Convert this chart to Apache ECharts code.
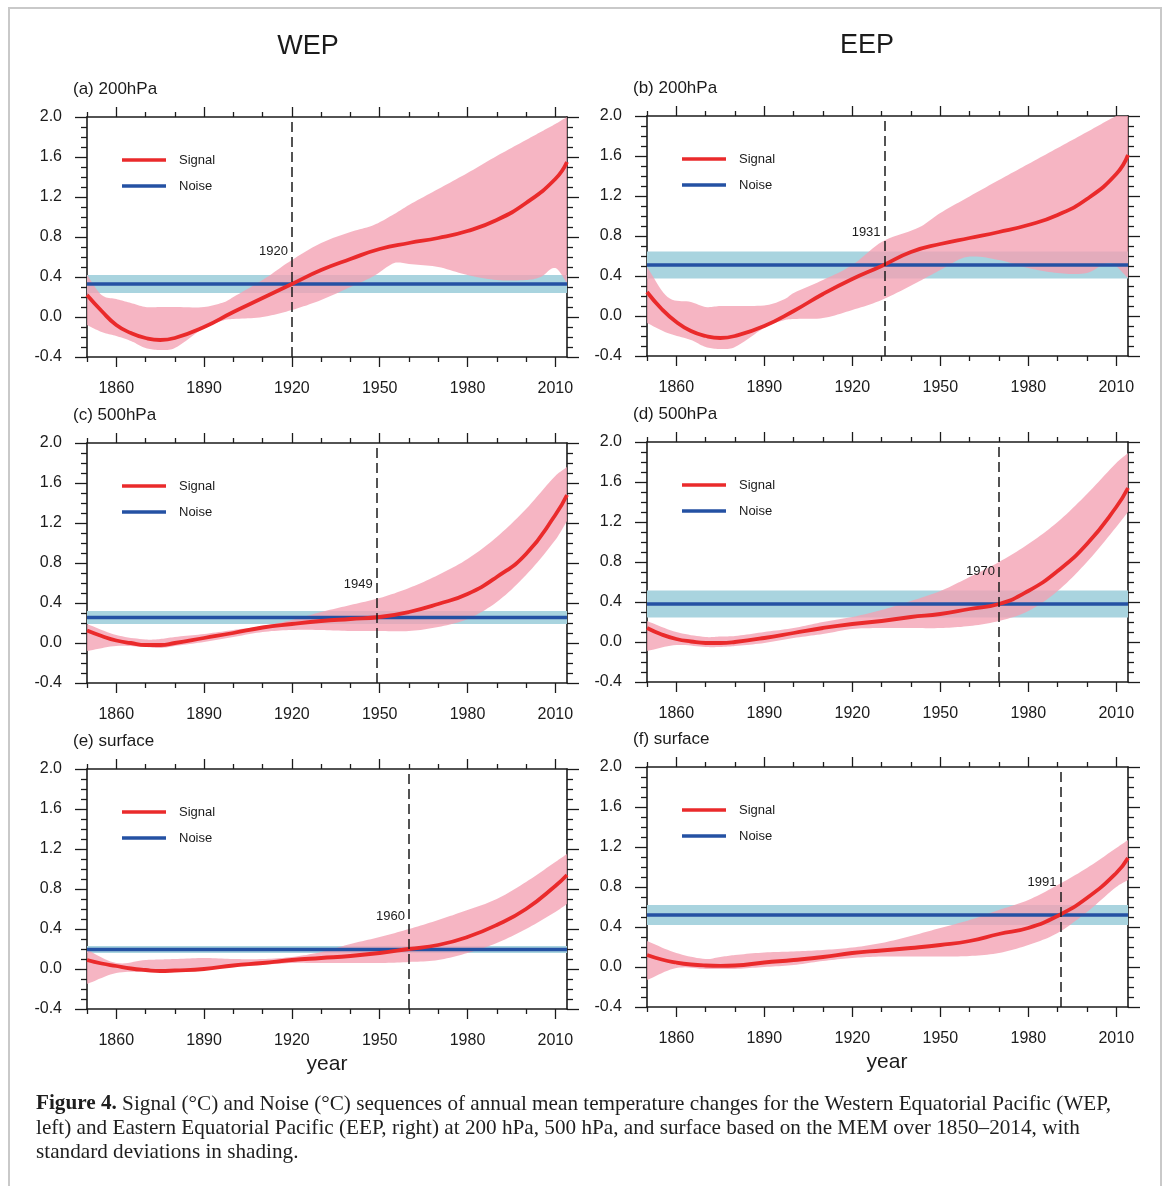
<!DOCTYPE html>
<html>
<head>
<meta charset="utf-8">
<script src="https://cdn.jsdelivr.net/npm/echarts@6/dist/echarts.min.js"></script>
<style>
  html, body { margin: 0; padding: 0; background: #ffffff; }
  #chart { width: 1168px; height: 1186px; }
</style>
</head>
<body>
<div id="chart"></div>
<script>
// ---------- data ----------
const majorYears = [1860, 1890, 1920, 1950, 1980, 2010];
const minorYears = [1850, 1870, 1880, 1900, 1910, 1930, 1940, 1960, 1970, 1990, 2000];
const signalYears = [1850, 1855, 1860, 1865, 1870, 1875, 1880, 1890, 1900, 1910, 1920, 1930, 1940, 1950, 1960, 1970, 1980, 1990, 2000, 2010, 2014];

// (a) WEP 200hPa
const signal_a = [0.22, 0.06, -0.08, -0.16, -0.21, -0.23, -0.21, -0.10, 0.05, 0.19, 0.33, 0.47, 0.58, 0.68, 0.74, 0.79, 0.86, 0.97, 1.14, 1.38, 1.55];
const bandYears_a = [1850, 1855, 1860, 1865, 1870, 1875, 1880, 1890, 1897, 1900, 1910, 1920, 1930, 1940, 1948, 1955, 1960, 1970, 1980, 1990, 2000, 2005, 2010, 2014];
const upper_a = [0.42, 0.22, 0.18, 0.14, 0.10, 0.10, 0.10, 0.10, 0.15, 0.20, 0.37, 0.57, 0.74, 0.85, 0.92, 1.03, 1.12, 1.28, 1.44, 1.61, 1.77, 1.85, 1.93, 2.00];
const lower_a = [-0.08, -0.15, -0.19, -0.24, -0.31, -0.33, -0.31, -0.11, -0.03, -0.02, 0.00, 0.07, 0.17, 0.30, 0.41, 0.54, 0.53, 0.50, 0.42, 0.37, 0.37, 0.40, 0.49, 0.34];
const noise_a = 0.33, noiseSd_a = 0.09, emergence_a = 1920;

// (b) EEP 200hPa
const signal_b = [0.24, 0.07, -0.06, -0.15, -0.20, -0.22, -0.20, -0.10, 0.05, 0.22, 0.37, 0.50, 0.64, 0.72, 0.78, 0.84, 0.91, 1.01, 1.17, 1.42, 1.61];
const bandYears_b = [1850, 1857, 1865, 1870, 1875, 1880, 1891, 1897, 1900, 1910, 1920, 1930, 1943, 1950, 1959, 1970, 1980, 1990, 2000, 2008, 2014];
const upper_b = [0.49, 0.19, 0.14, 0.09, 0.10, 0.10, 0.11, 0.17, 0.23, 0.36, 0.51, 0.74, 0.89, 1.03, 1.18, 1.36, 1.52, 1.68, 1.84, 1.97, 2.06];
const lower_b = [-0.07, -0.17, -0.24, -0.31, -0.33, -0.31, -0.10, -0.04, -0.03, -0.02, 0.06, 0.16, 0.35, 0.46, 0.59, 0.56, 0.48, 0.43, 0.43, 0.53, 0.38];
const noise_b = 0.51, noiseSd_b = 0.135, emergence_b = 1931;

// shared sampling years for the lower-level spreads
const bandYears_cf = [1850, 1860, 1870, 1875, 1880, 1890, 1900, 1910, 1920, 1930, 1940, 1950, 1960, 1970, 1980, 1990, 2000, 2010, 2014];

// (c) WEP 500hPa
const signal_c = [0.125, 0.07, 0.025, 0.0, -0.02, -0.02, 0.0, 0.05, 0.10, 0.155, 0.19, 0.22, 0.24, 0.26, 0.31, 0.39, 0.49, 0.66, 0.89, 1.28, 1.48];
const upper_c = [0.19, 0.08, 0.035, 0.04, 0.06, 0.09, 0.13, 0.17, 0.23, 0.31, 0.38, 0.45, 0.55, 0.68, 0.84, 1.06, 1.34, 1.67, 1.76];
const lower_c = [-0.08, -0.03, -0.04, -0.05, -0.03, 0.01, 0.06, 0.11, 0.13, 0.13, 0.12, 0.12, 0.12, 0.16, 0.24, 0.41, 0.68, 1.03, 1.22];
const noise_c = 0.255, noiseSd_c = 0.065, emergence_c = 1949;

// (d) EEP 500hPa
const signal_d = [0.14, 0.075, 0.03, 0.005, -0.01, -0.01, 0.0, 0.04, 0.09, 0.14, 0.18, 0.21, 0.25, 0.28, 0.33, 0.38, 0.51, 0.71, 0.98, 1.35, 1.54];
const upper_d = [0.21, 0.10, 0.05, 0.055, 0.06, 0.10, 0.14, 0.20, 0.25, 0.32, 0.41, 0.51, 0.65, 0.80, 0.98, 1.20, 1.48, 1.79, 1.89];
const lower_d = [-0.09, -0.03, -0.05, -0.05, -0.04, -0.01, 0.04, 0.08, 0.13, 0.14, 0.14, 0.14, 0.16, 0.21, 0.31, 0.51, 0.80, 1.15, 1.30];
const noise_d = 0.38, noiseSd_d = 0.135, emergence_d = 1970;

// (e) WEP surface
const signal_e = [0.09, 0.055, 0.03, 0.005, -0.01, -0.02, -0.015, 0.0, 0.035, 0.06, 0.09, 0.11, 0.13, 0.16, 0.20, 0.24, 0.32, 0.44, 0.60, 0.83, 0.94];
const upper_e = [0.19, 0.06, 0.09, 0.095, 0.10, 0.11, 0.10, 0.10, 0.12, 0.17, 0.25, 0.32, 0.40, 0.49, 0.59, 0.70, 0.87, 1.07, 1.15];
const lower_e = [-0.15, -0.04, -0.03, -0.03, -0.03, 0.0, 0.02, 0.04, 0.06, 0.06, 0.06, 0.06, 0.07, 0.09, 0.16, 0.26, 0.40, 0.57, 0.65];
const noise_e = 0.195, noiseSd_e = 0.035, emergence_e = 1960;

// (f) EEP surface
const signal_f = [0.12, 0.075, 0.045, 0.025, 0.015, 0.012, 0.015, 0.045, 0.07, 0.10, 0.14, 0.165, 0.19, 0.22, 0.26, 0.33, 0.39, 0.51, 0.69, 0.94, 1.09];
const upper_f = [0.26, 0.14, 0.08, 0.10, 0.12, 0.145, 0.155, 0.17, 0.195, 0.24, 0.31, 0.39, 0.47, 0.57, 0.67, 0.82, 0.99, 1.19, 1.27];
const lower_f = [-0.13, -0.01, -0.02, -0.02, -0.02, 0.0, 0.02, 0.06, 0.09, 0.105, 0.105, 0.105, 0.11, 0.14, 0.22, 0.34, 0.55, 0.80, 0.87];
const noise_f = 0.52, noiseSd_f = 0.10, emergence_f = 1991;

const panelTitles = ['(a) 200hPa', '(b) 200hPa', '(c) 500hPa', '(d) 500hPa', '(e) surface', '(f) surface'];

// ---------- panel assembly ----------
const panels = [
  { title: panelTitles[0], signal: signal_a, bandYears: bandYears_a, upper: upper_a, lower: lower_a, noise: noise_a, sd: noiseSd_a, year: emergence_a },
  { title: panelTitles[1], signal: signal_b, bandYears: bandYears_b, upper: upper_b, lower: lower_b, noise: noise_b, sd: noiseSd_b, year: emergence_b },
  { title: panelTitles[2], signal: signal_c, bandYears: bandYears_cf, upper: upper_c, lower: lower_c, noise: noise_c, sd: noiseSd_c, year: emergence_c },
  { title: panelTitles[3], signal: signal_d, bandYears: bandYears_cf, upper: upper_d, lower: lower_d, noise: noise_d, sd: noiseSd_d, year: emergence_d },
  { title: panelTitles[4], signal: signal_e, bandYears: bandYears_cf, upper: upper_e, lower: lower_e, noise: noise_e, sd: noiseSd_e, year: emergence_e },
  { title: panelTitles[5], signal: signal_f, bandYears: bandYears_cf, upper: upper_f, lower: lower_f, noise: noise_f, sd: noiseSd_f, year: emergence_f }
];

// layout of the 3x2 panel grid (pixels)
const colLeft = [87, 647];
const colWidth = [480, 481];
const rowTop = [[117, 443, 769], [116, 442, 767]];
const plotHeight = 240;

const INK = '#1b1b1b';
const RED = '#ea2a2b';
const BLUE = '#2451a3';
const PINK = 'rgba(243,160,178,0.78)';
const SKY = '#a9d4df';
const SANS = '"Liberation Sans", Arial, Helvetica, sans-serif';
const SERIF = '"Liberation Serif", "Times New Roman", serif';

// Smooth pixel-space curve through projected points (cubic Hermite, finite-difference slopes)
function smoothPixels(pts, steps) {
  const n = pts.length, out = [];
  if (n < 3) return pts.slice();
  const slope = pts.map((p, i) => {
    const a = pts[Math.max(0, i - 1)], b = pts[Math.min(n - 1, i + 1)];
    return (b[1] - a[1]) / (b[0] - a[0]);
  });
  for (let i = 0; i < n - 1; i++) {
    const p0 = pts[i], p1 = pts[i + 1], h = p1[0] - p0[0];
    for (let s = 0; s < steps; s++) {
      const t = s / steps, t2 = t * t, t3 = t2 * t;
      const y = (2 * t3 - 3 * t2 + 1) * p0[1] + (t3 - 2 * t2 + t) * h * slope[i] +
                (-2 * t3 + 3 * t2) * p1[1] + (t3 - t2) * h * slope[i + 1];
      out.push([p0[0] + t * h, y]);
    }
  }
  out.push(pts[n - 1]);
  return out;
}

// Filled spread between two curves, drawn once per series through the axis scales
function spreadRenderer(xs, lo, hi, fill, steps) {
  return function (params, api) {
    if (params.dataIndex !== 0) return null;
    const top = smoothPixels(xs.map((x, i) => api.coord([x, hi[i]])), steps);
    const bot = smoothPixels(xs.map((x, i) => api.coord([x, lo[i]])), steps);
    return {
      type: 'polygon',
      shape: { points: top.concat(bot.reverse()) },
      style: { fill: fill, stroke: null }
    };
  };
}

const grids = [], xAxes = [], yAxes = [], series = [], legends = [], graphics = [];

panels.forEach((p, g) => {
  const col = g % 2, row = Math.floor(g / 2);
  const left = colLeft[col], top = rowTop[col][row];
  grids.push({ left: left, top: top, width: colWidth[col], height: plotHeight, containLabel: false });

  const xBase = { type: 'value', gridIndex: g, min: 1850, max: 2014, splitLine: { show: false } };
  const lineStyle = { color: INK, width: 1.6 };
  const tickStyle = { color: INK, width: 1.3 };
  // bottom: labelled major ticks, then minor ticks every decade
  xAxes.push(Object.assign({}, xBase, {
    position: 'bottom',
    axisLine: { show: true, onZero: false, lineStyle: lineStyle },
    axisTick: { show: true, inside: false, length: 10, customValues: majorYears, lineStyle: tickStyle },
    axisLabel: { show: true, customValues: majorYears, margin: 24, fontSize: 16, color: INK, fontFamily: SANS, formatter: v => String(v) }
  }));
  xAxes.push(Object.assign({}, xBase, {
    position: 'bottom',
    axisLine: { show: false, onZero: false },
    axisTick: { show: true, inside: false, length: 5, customValues: minorYears, lineStyle: tickStyle },
    axisLabel: { show: false }
  }));
  // top mirror
  xAxes.push(Object.assign({}, xBase, {
    position: 'top',
    axisLine: { show: true, onZero: false, lineStyle: lineStyle },
    axisTick: { show: true, inside: false, length: 10, customValues: majorYears, lineStyle: tickStyle },
    axisLabel: { show: false }
  }));
  xAxes.push(Object.assign({}, xBase, {
    position: 'top',
    axisLine: { show: false, onZero: false },
    axisTick: { show: true, inside: false, length: 5, customValues: minorYears, lineStyle: tickStyle },
    axisLabel: { show: false }
  }));

  const yBase = {
    type: 'value', gridIndex: g, min: -0.4, max: 2.0, interval: 0.4,
    splitLine: { show: false }, minorSplitLine: { show: false },
    axisLine: { show: true, onZero: false, lineStyle: lineStyle },
    axisTick: { show: true, inside: false, length: 12, lineStyle: tickStyle },
    minorTick: { show: true, splitNumber: 4, length: 6, lineStyle: tickStyle }
  };
  yAxes.push(Object.assign({}, yBase, {
    position: 'left',
    axisLabel: { show: true, margin: 25, fontSize: 16, color: INK, fontFamily: SANS, formatter: v => v.toFixed(1) }
  }));
  yAxes.push(Object.assign({}, yBase, { position: 'right', axisLabel: { show: false } }));

  const xi = g * 4, yi = g * 2;

  // noise spread (one standard deviation about the noise level)
  const nYears = [1850, 2014];
  const nLo = [p.noise - p.sd, p.noise - p.sd], nHi = [p.noise + p.sd, p.noise + p.sd];
  series.push({
    type: 'custom', name: 'Noise spread', xAxisIndex: xi, yAxisIndex: yi, z: 1, silent: true, clip: true,
    data: nYears.map((x, i) => [x, nLo[i], nHi[i]]),
    encode: { x: 0, y: [1, 2] },
    renderItem: spreadRenderer(nYears, nLo, nHi, SKY, 1)
  });

  // signal spread
  series.push({
    type: 'custom', name: 'Signal spread', xAxisIndex: xi, yAxisIndex: yi, z: 2, silent: true, clip: true,
    data: p.bandYears.map((x, i) => [x, p.lower[i], p.upper[i]]),
    encode: { x: 0, y: [1, 2] },
    renderItem: spreadRenderer(p.bandYears, p.lower, p.upper, PINK, 10)
  });

  // noise level
  series.push({
    type: 'line', name: 'Noise', xAxisIndex: xi, yAxisIndex: yi, z: 3, color: BLUE,
    symbol: 'none', silent: true,
    data: [[1850, p.noise], [2014, p.noise]],
    lineStyle: { color: BLUE, width: 3.6 }
  });

  // signal with time of emergence
  series.push({
    type: 'line', name: 'Signal', xAxisIndex: xi, yAxisIndex: yi, z: 4, color: RED,
    symbol: 'none', silent: true, smooth: 0.5,
    data: signalYears.map((y, i) => [y, p.signal[i]]),
    lineStyle: { color: RED, width: 3.8 },
    markLine: {
      silent: true, symbol: ['none', 'none'], animation: false, z: 6,
      label: { show: false },
      lineStyle: { color: INK, width: 1.5, type: [10, 5] },
      data: [{ xAxis: p.year }]
    },
    markPoint: {
      silent: true, animation: false, z: 6,
      data: [{
        name: String(p.year), coord: [p.year, p.noise], symbol: 'circle', symbolSize: 0,
        label: { show: true, position: 'left', distance: 4, offset: [0, -33], formatter: '{b}', fontSize: 13, color: INK, fontFamily: SANS }
      }]
    }
  });

  legends.push({
    left: left + 35, top: top + 35, orient: 'vertical', padding: 0,
    selectedMode: false, itemWidth: 44, itemHeight: 3.5, itemGap: 10,
    textStyle: { fontSize: 13, color: INK, fontFamily: SANS, lineHeight: 16, padding: [0, 0, 0, 8] },
    data: [{ name: 'Signal', icon: 'rect' }, { name: 'Noise', icon: 'rect' }]
  });

  graphics.push({
    type: 'text', left: left - 14, top: top - 36,
    style: { text: p.title, fontSize: 17, fill: INK, fontFamily: SANS }
  });
});

// column headers, axis names, caption and frame
graphics.push(
  { type: 'rect', shape: { x: 9, y: 8, width: 1152, height: 1220 }, style: { fill: 'none', stroke: '#c9c9c9', lineWidth: 2 }, z: -1 },
  { type: 'text', x: 308, y: 47, style: { text: 'WEP', fontSize: 27, fill: INK, fontFamily: SANS, textAlign: 'center', textVerticalAlign: 'middle' } },
  { type: 'text', x: 867, y: 46, style: { text: 'EEP', fontSize: 27, fill: INK, fontFamily: SANS, textAlign: 'center', textVerticalAlign: 'middle' } },
  { type: 'text', x: 327, y: 1064, style: { text: 'year', fontSize: 21, fill: INK, fontFamily: SANS, textAlign: 'center', textVerticalAlign: 'middle' } },
  { type: 'text', x: 887, y: 1062, style: { text: 'year', fontSize: 21, fill: INK, fontFamily: SANS, textAlign: 'center', textVerticalAlign: 'middle' } },
  {
    type: 'text', left: 36, top: 1092,
    style: {
      text: '{b|Figure 4.} Signal (°C) and Noise (°C) sequences of annual mean temperature changes for the Western Equatorial Pacific (WEP,\n' +
            'left) and Eastern Equatorial Pacific (EEP, right) at 200 hPa, 500 hPa, and surface based on the MEM over 1850–2014, with\n' +
            'standard deviations in shading.',
      fontSize: 21.2, lineHeight: 24, fill: '#1e1e1e', fontFamily: SERIF,
      rich: { b: { fontWeight: 'bold', fontSize: 21.2, lineHeight: 24, fontFamily: SERIF, fill: '#1e1e1e' } }
    }
  }
);

const chart = echarts.init(document.getElementById('chart'), null, { renderer: 'canvas' });
chart.setOption({
  backgroundColor: '#ffffff',
  animation: false,
  grid: grids,
  xAxis: xAxes,
  yAxis: yAxes,
  legend: legends,
  series: series,
  graphic: graphics
});
</script>
</body>
</html>
